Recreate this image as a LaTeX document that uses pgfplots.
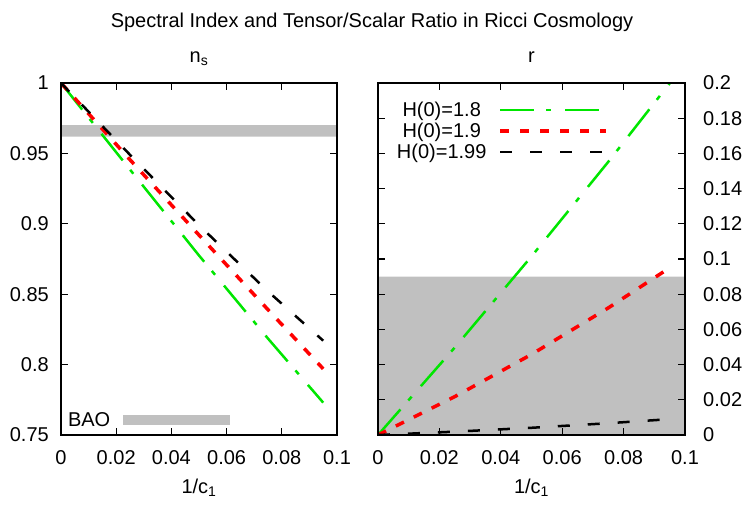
\documentclass[border=0pt]{standalone}
\usepackage{fontspec}
\setmainfont{Liberation Sans}
\usepackage{pgfplots}
\pgfplotsset{compat=1.18}
\definecolor{lgreen}{RGB}{0,230,0}
\definecolor{bandgray}{RGB}{192,192,192}
\newcommand\F{\fontsize{20bp}{20bp}\selectfont}
\pgfplotsset{
 common/.style={scale only axis, height=352bp, xmin=0, xmax=0.1, axis on top,
  axis line style={line width=2.5bp}, tick style={line width=1.2bp, black},
  major tick length=7bp, tick align=inside,
  xtick={0,0.02,0.04,0.06,0.08,0.1}, xticklabels={0,0.02,0.04,0.06,0.08,0.1},
  xticklabel style={inner sep=0pt, font=\F}, yticklabel style={inner sep=0pt, font=\F},
  xticklabel shift=15bp,
  legend style={draw=none, fill=none, inner sep=0pt, outer sep=0pt, row sep=0pt, font=\F,
    nodes={inner sep=0pt, outer sep=0pt, text height=15bp, text depth=5bp, anchor=base}},
  legend cell align=right, legend plot pos=right,
 },
 gline/.style={lgreen, line width=2.5bp, dash pattern=on 34bp off 12bp on 5bp off 14bp},
 rline/.style={red, line width=3.5bp, dash pattern=on 9bp off 11bp},
 kline/.style={black, line width=2.5bp, dash pattern=on 12bp off 18bp},
}
\begin{document}
\F
\begin{tikzpicture}
\path[use as bounding box] (0,0) rectangle (747bp,-523bp);
% left panel
\begin{axis}[common, width=276bp, at={(61bp,-435bp)}, anchor=south west,
  ymin=0.75, ymax=1,
  ytick={0.75,0.8,0.85,0.9,0.95,1}, yticklabels={0.75,0.8,0.85,0.9,0.95,1},
  yticklabel shift=12bp,
  legend style={at={(rel axis cs:0,0)}, anchor=south west, xshift=7bp, yshift=4bp, column sep=13bp}]
\addplot[draw=none, fill=bandgray, legend image code/.code={\path (0bp,-5bp) (0bp,15bp); \fill[bandgray] (0bp,1bp) rectangle (107bp,11.5bp);}]
  coordinates {(0,0.962) (0.1,0.962) (0.1,0.970) (0,0.970) (0,0.962)};
\addlegendentry{BAO}
\addplot[gline, forget plot] coordinates {(0,1) (0.025,0.9385) (0.05,0.8775) (0.075,0.8185) (0.095,0.773)};
\addplot[rline, forget plot] coordinates {(0,1) (0.025,0.9455) (0.05,0.892) (0.075,0.839) (0.095,0.797)};
\addplot[kline, forget plot] coordinates {(0,1) (0.025,0.949) (0.05,0.899) (0.075,0.852) (0.095,0.817)};
\end{axis}
% right panel
\begin{axis}[common, width=307bp, at={(378bp,-435bp)}, anchor=south west,
  ymin=0, ymax=0.2, yticklabel pos=right,
  ytick={0,0.02,0.04,0.06,0.08,0.1,0.12,0.14,0.16,0.18,0.2},
  yticklabels={0,0.02,0.04,0.06,0.08,0.1,0.12,0.14,0.16,0.18,0.2},
  yticklabel shift=18bp,
  legend style={at={(rel axis cs:0.749,1)}, anchor=north east, yshift=-17bp, column sep=12bp, row sep=-2bp},
  legend image code/.code={\path (0bp,-5bp) (0bp,15bp); \draw[#1] (0bp,6.5bp) -- (106bp,6.5bp);}]
\addplot[draw=none, fill=bandgray, forget plot]
  coordinates {(0,0) (0.1,0) (0.1,0.09) (0,0.09) (0,0)};
\addplot[gline] coordinates {(0,0) (0.025,0.0497) (0.05,0.1015) (0.075,0.1552) (0.095,0.1998)};
\addlegendentry{H(0)=1.8}
\addplot[rline] coordinates {(0,0) (0.025,0.0218) (0.05,0.0458) (0.075,0.0722) (0.095,0.095)};
\addlegendentry{H(0)=1.9}
\addplot[kline] coordinates {(0,0) (0.025,0.0019) (0.05,0.0041) (0.075,0.0067) (0.095,0.0090)};
\addlegendentry{H(0)=1.99}
\end{axis}
% titles
\node[anchor=base] at (372bp,-27.5bp) {Spectral Index and Tensor/Scalar Ratio in Ricci Cosmology};
\node[anchor=base] at (199bp,-62bp) {n\textsubscript{s}};
\node[anchor=base] at (531.5bp,-62bp) {r};
\node[anchor=base] at (199bp,-493bp) {1/c\textsubscript{1}};
\node[anchor=base] at (531.5bp,-493bp) {1/c\textsubscript{1}};
\end{tikzpicture}
\end{document}
